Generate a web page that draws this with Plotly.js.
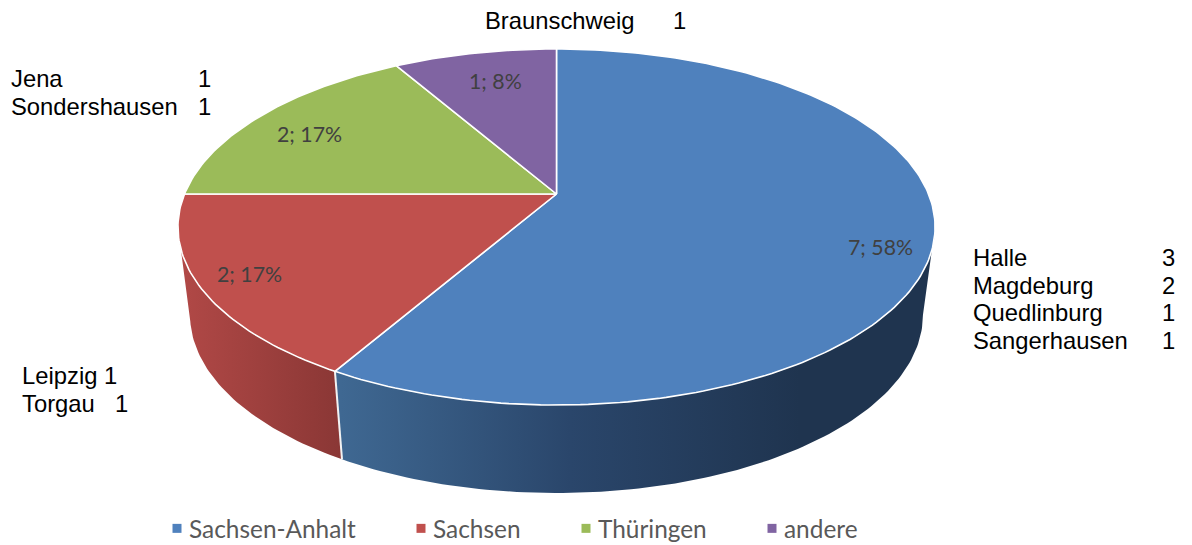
<!DOCTYPE html>
<html>
<head>
<meta charset="utf-8">
<script src="https://cdn.plot.ly/plotly-3.0.1.min.js"></script>
<style>
html,body{margin:0;padding:0;background:#fff}
#chart{width:1192px;height:545px}
/* the reference keeps its legend text closer to the key than Plotly's default gap */
#chart .legendtext,#chart .legend2text,#chart .legend3text,#chart .legend4text{transform:translateX(-8px)}
</style>
</head>
<body>
<div id="chart"></div>
<script>
// ---- data ----
const categories = ['Sachsen-Anhalt', 'Sachsen', 'Thüringen', 'andere'];
const counts = [7, 2, 2, 1];
const citiesAnhalt = ['Halle', 'Magdeburg', 'Quedlinburg', 'Sangerhausen'];
const countsAnhalt = [3, 2, 1, 1];
const citiesSachsen = ['Leipzig', 'Torgau'];
const countsSachsen = [1, 1];
const citiesThueringen = ['Jena', 'Sondershausen'];
const countsThueringen = [1, 1];
const citiesAndere = ['Braunschweig'];
const countsAndere = [1];

// ---- styles ----
const topColors = ['#4f81bd', '#c0504d', '#9bbb59', '#8064a2'];
const wallScales = {
  0: [[0, '#3f6892'], [0.5, '#2a466b'], [1, '#1f344f']],
  1: [[0, '#b04846'], [1, '#8a3735']]
};
const wallSpans = {0: [341, 800], 1: [185, 341]};

// ---- projection of the tilted pie disc ----
const CX = 556.5, CY = 194, A = 372, B = 171.9, K = 0.1854;
const DEPTH = 88, BOTTOM_SCALE = 0.968;
const rad = d => d * Math.PI / 180;
function topPt(deg) {
  const X = Math.sin(rad(deg)), Y = Math.cos(rad(deg)), w = 1 + K * Y;
  return [CX + A * X / w, CY - B * Y / w];
}
function botPt(deg) {
  const p = topPt(deg);
  return [CX + (p[0] - CX) * BOTTOM_SCALE, p[1] + DEPTH];
}
function arc(fn, a, b) {
  const pts = [], n = Math.max(2, Math.ceil(Math.abs(b - a)));
  for (let i = 0; i <= n; i++) pts.push(fn(a + (b - a) * i / n));
  return pts;
}

const total = counts.reduce((s, v) => s + v, 0);
let cum = 0;
const spans = counts.map(v => {
  const s = [cum / total * 360, (cum + v) / total * 360];
  cum += v;
  return s;
});

// silhouette angles of the disc
const tangentR = Math.acos(-K) * 180 / Math.PI;
const tangentL = 360 - tangentR;

const traces = [];
// side walls (only those facing the viewer)
[0, 1].forEach(i => {
  const a = Math.max(spans[i][0], tangentR);
  const b = Math.min(spans[i][1], tangentL);
  const pts = arc(topPt, a, b).concat(arc(botPt, b, a));
  traces.push({
    x: pts.map(p => p[0]), y: pts.map(p => p[1]),
    mode: 'lines', fill: 'toself', line: {width: 0, color: 'rgba(0,0,0,0)'},
    fillgradient: {type: 'horizontal', colorscale: wallScales[i], start: wallSpans[i][0], stop: wallSpans[i][1]},
    hoverinfo: 'skip', showlegend: false
  });
});
// seam between the two visible walls
const seamA = topPt(spans[0][1]), seamB = botPt(spans[0][1]);
traces.push({
  x: [seamA[0], seamB[0]], y: [seamA[1], seamB[1]],
  mode: 'lines', line: {color: '#f2f2f2', width: 2}, hoverinfo: 'skip', showlegend: false
});
// top slices
spans.forEach((s, i) => {
  const pts = [[CX, CY]].concat(arc(topPt, s[0], s[1]), [[CX, CY]]);
  traces.push({
    x: pts.map(p => p[0]), y: pts.map(p => p[1]),
    mode: 'lines', fill: 'toself', fillcolor: topColors[i],
    line: {color: '#ffffff', width: 1.6},
    name: categories[i], hoverinfo: 'name', showlegend: false
  });
});
// legend keys
const legendIds = ['legend', 'legend2', 'legend3', 'legend4'];
categories.forEach((c, i) => {
  traces.push({
    x: [null], y: [null], mode: 'markers', name: c,
    marker: {symbol: 'square', size: 9, color: topColors[i]},
    legend: i === 0 ? 'legend' : 'legend' + (i + 1)
  });
});

// ---- texts ----
const annotations = [];
function note(text, x, y, anchor, font) {
  annotations.push({
    text, x, y, xref: 'x', yref: 'y', xanchor: anchor, yanchor: 'middle',
    showarrow: false, font, align: anchor
  });
}
const arial = {family: 'Liberation Sans, Arial, sans-serif', size: 23.8, color: '#000000'};
const calibri = {family: 'Lato, sans-serif', size: 21.3, color: '#404040'};

const labelAt = [[880, 247], [249, 274], [309, 134], [495, 81]];
counts.forEach((v, i) => {
  note(v + '; ' + Math.round(v / total * 100) + '%', labelAt[i][0], labelAt[i][1], 'center', calibri);
});
function block(names, nums, xName, xNums, y0, dy) {
  names.forEach((n, i) => {
    note(n, xName, y0 + i * dy, 'left', arial);
    note(String(nums[i]), xNums[i], y0 + i * dy, 'right', arial);
  });
}
block(citiesAnhalt, countsAnhalt, 971, [1177, 1177, 1177, 1177], 257.5, 27.7);
block(citiesSachsen, countsSachsen, 20, [119, 130], 375.5, 28);
block(citiesThueringen, countsThueringen, 9, [213, 213], 78.5, 28);
block(citiesAndere, countsAndere, 483, [688], 20.5, 28);

const legendFont = {family: 'Lato, sans-serif', size: 24.4, color: '#595959'};
const legendX = [157, 401, 566, 752];
const layout = {
  width: 1192, height: 545, autosize: false,
  margin: {l: 0, r: 0, t: 0, b: 0, autoexpand: false},
  paper_bgcolor: '#ffffff', plot_bgcolor: '#ffffff',
  xaxis: {range: [0, 1192], visible: false, fixedrange: true},
  yaxis: {range: [545, 0], visible: false, fixedrange: true},
  annotations, showlegend: true
};
legendIds.forEach((id, i) => {
  layout[id] = {
    x: legendX[i] / 1192, y: 1 - 506 / 545, xanchor: 'left', yanchor: 'top',
    orientation: 'h', font: legendFont, bgcolor: 'rgba(0,0,0,0)', itemclick: false, itemdoubleclick: false
  };
});
Plotly.newPlot('chart', traces, layout, {displayModeBar: false, responsive: false});
</script>
</body>
</html>
